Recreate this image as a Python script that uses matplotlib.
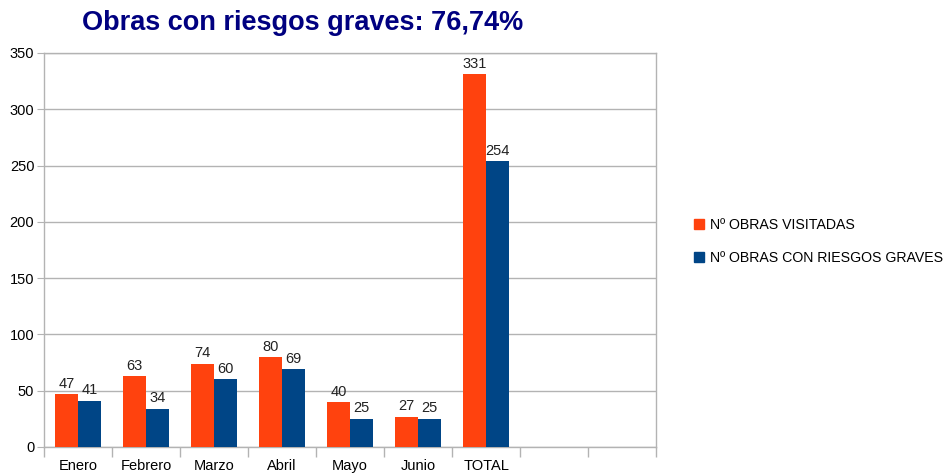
import numpy as np
import matplotlib
matplotlib.use("Agg")
import matplotlib.pyplot as plt
import matplotlib.patches as mpatches

plt.rcParams["font.family"] = ["Liberation Sans", "DejaVu Sans"]

# ─── data ────────────────────────────────────────────────────────────────────
categories = ["Enero", "Febrero", "Marzo", "Abril", "Mayo", "Junio", "TOTAL", "", ""]
visitadas  = [47, 63, 74, 80, 40, 27, 331]
graves     = [41, 34, 60, 69, 25, 25, 254]
series_names = ["Nº OBRAS VISITADAS", "Nº OBRAS CON RIESGOS GRAVES"]
title = "Obras con riesgos graves: 76,74%"

c_vis = "#ff420e"
c_grv = "#004586"

fig = plt.figure(figsize=(9.52, 4.73), dpi=100)
ax = fig.add_axes([0.0462, 0.055, 0.643, 0.833])

n = len(visitadas)
x = np.arange(n)
w = 0.34
b1 = ax.bar(x - w / 2, visitadas, width=w, color=c_vis, zorder=3)
b2 = ax.bar(x + w / 2, graves, width=w, color=c_grv, zorder=3)

for bars, vals in ((b1, visitadas), (b2, graves)):
    for bar, v in zip(bars, vals):
        ax.text(bar.get_x() + bar.get_width() / 2, v + 3, str(v),
                ha="center", va="bottom", fontsize=10.5, color="#222222")

ax.set_xlim(-0.5, len(categories) - 0.5)
ax.set_ylim(0, 350)
ax.set_yticks(np.arange(0, 351, 50))
ax.yaxis.grid(True, color="#b3b3b3", linewidth=1, zorder=0)

# category labels centred, ticks on boundaries
ax.set_xticks(np.arange(len(categories)))
ax.set_xticklabels(categories, fontsize=10.5)
ax.tick_params(axis="x", length=0, pad=9)
ax.set_xticks(np.arange(len(categories) + 1) - 0.5, minor=True)
ax.tick_params(axis="x", which="minor", length=7, color="#b3b3b3", width=1)
ax.tick_params(axis="y", length=5, color="#b3b3b3", labelsize=10.5, pad=2)

for s in ax.spines.values():
    s.set_color("#b3b3b3")
    s.set_linewidth(1)

fig.text(0.318, 0.952, title, ha="center", va="center", fontsize=19.5,
         fontweight="bold", color="#000080")

handles = [mpatches.Patch(color=c_vis, label=series_names[0]),
           mpatches.Patch(color=c_grv, label=series_names[1])]
fig.legend(handles=handles, loc="center left", bbox_to_anchor=(0.716, 0.49),
           frameon=False, fontsize=10.2, handlelength=0.7, handleheight=0.7,
           handletextpad=0.4, labelspacing=1.35)

fig.savefig("out.png", dpi=100)
